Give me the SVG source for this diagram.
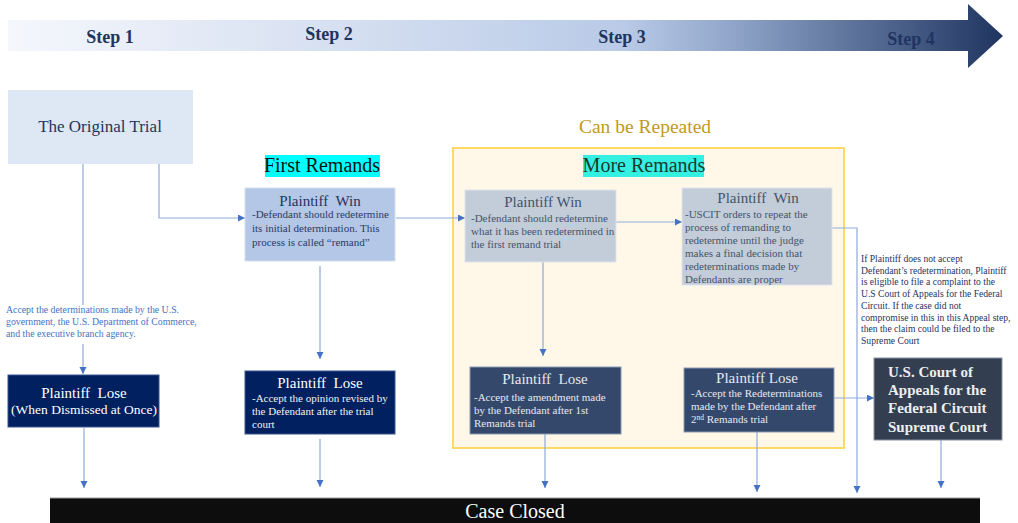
<svg xmlns="http://www.w3.org/2000/svg" width="1018" height="523" viewBox="0 0 1018 523" font-family="'Liberation Serif', 'Times New Roman', 'DejaVu Serif', serif">
<defs>
<linearGradient id="band" gradientUnits="userSpaceOnUse" x1="8" y1="0" x2="1003" y2="0">
<stop offset="0" stop-color="#f5f7fc"/>
<stop offset="0.3" stop-color="#d9e2f2"/>
<stop offset="0.62" stop-color="#b9cae7"/>
<stop offset="0.72" stop-color="#93a8cc"/>
<stop offset="1" stop-color="#1f3560"/>
</linearGradient>
<marker id="ah" markerUnits="userSpaceOnUse" markerWidth="8" markerHeight="8" refX="7" refY="3.5" orient="auto">
<path d="M0,0 L7,3.5 L0,7 z" fill="#4472c4"/>
</marker>
<style>
text{font-family:'Liberation Serif','Times New Roman','DejaVu Serif',serif}
.step{font-weight:bold;font-size:18px;fill:#1f3461;text-anchor:middle}
.conn{fill:none;stroke:#8eaadb;stroke-width:1.2}
.arr{marker-end:url(#ah)}
.title{font-size:15px;text-anchor:middle}
.body{font-size:11px}
.win1{fill:#b4c7e7;stroke:#d3def1;stroke-width:1}
.win2{fill:#c3ccd9;stroke:#dfe4ec;stroke-width:1}
.lose1{fill:#002060;stroke:#3a5590;stroke-width:1}
.lose2{fill:#34486c;stroke:#8a99b3;stroke-width:1}
.note{font-size:9.6px;fill:#1f3461}
</style>
</defs>

<g id="banner">
<path d="M8,20 L968,20 L968,4 L1003,36 L968,68 L968,51 L8,51 z" fill="url(#band)"/>
<text class="step" x="110" y="43">Step 1</text>
<text class="step" x="329" y="40">Step 2</text>
<text class="step" x="622" y="43">Step 3</text>
<text class="step" x="911" y="45">Step 4</text>
</g>

<g id="repeat-group">
<rect x="453" y="148" width="391" height="300" fill="#fff8e9" stroke="#ffd966" stroke-width="2"/>
<text x="645" y="133" font-size="19.5" fill="#c19a1e" text-anchor="middle">Can be Repeated</text>
<rect x="583" y="155" width="121" height="22" fill="#33f0e2"/>
<text x="644" y="172" font-size="20" fill="#1e3a2c" text-anchor="middle">More Remands</text>
</g>

<g id="connectors">
<path class="conn" d="M83,164 V305"/>
<path class="conn arr" d="M83,344 V374"/>
<path class="conn arr" d="M159,164 V218 H245"/>
<path class="conn arr" d="M84,428 V488"/>
<path class="conn arr" d="M320,266 V359"/>
<path class="conn arr" d="M320,439 V487"/>
<path class="conn arr" d="M396,218 H465"/>
<path class="conn arr" d="M543,262 V356"/>
<path class="conn arr" d="M545,434 V488"/>
<path class="conn arr" d="M616,222 H682"/>
<path class="conn arr" d="M832,228 H857 V493"/>
<path class="conn arr" d="M757,432 V492"/>
<path class="conn arr" d="M834,398 H874"/>
<path class="conn arr" d="M941,440 V488"/>
</g>

<g id="original-trial">
<rect x="8" y="90" width="185" height="74" fill="#dde8f4"/>
<text x="100" y="132" font-size="17" fill="#1f3461" text-anchor="middle">The Original Trial</text>
</g>

<g id="accept-note">
<text font-size="9.8" fill="#4472c4">
<tspan x="6" y="313">Accept the determinations made by the U.S.</tspan>
<tspan x="6" y="325">government, the U.S. Department of Commerce,</tspan>
<tspan x="6" y="337">and the executive branch agency.</tspan>
</text>
</g>

<g id="lose-dismissed">
<rect class="lose1" x="8" y="375" width="151" height="52"/>
<text class="title" x="84" y="398" fill="#ffffff">Plaintiff&#160; Lose</text>
<text x="84" y="414" font-size="13.5" fill="#ffffff" text-anchor="middle">(When Dismissed at Once)</text>
</g>

<g id="first-remands-label">
<rect x="265" y="155" width="115" height="22" fill="#00ffff"/>
<text x="322" y="172" font-size="20" fill="#111111" text-anchor="middle">First Remands</text>
</g>

<g id="win-first">
<rect class="win1" x="245" y="188" width="150" height="73"/>
<text class="title" x="320" y="206" fill="#1f3461">Plaintiff&#160; Win</text>
<text class="body" fill="#2a3a66">
<tspan x="252" y="218">-Defendant should redetermine</tspan>
<tspan x="252" y="232">its initial determination. This</tspan>
<tspan x="252" y="246">process is called “remand”</tspan>
</text>
</g>

<g id="lose-first">
<rect class="lose1" x="245" y="371" width="150" height="63"/>
<text class="title" x="320" y="388" fill="#ffffff">Plaintiff&#160; Lose</text>
<text class="body" fill="#f2f2f2">
<tspan x="252" y="402">-Accept the opinion revised by</tspan>
<tspan x="252" y="415">the Defendant after the trial</tspan>
<tspan x="252" y="428">court</tspan>
</text>
</g>

<g id="win-more-1">
<rect class="win2" x="465" y="190" width="151" height="72"/>
<text class="title" x="543" y="207" fill="#44546a">Plaintiff Win</text>
<text class="body" fill="#44546a">
<tspan x="471" y="222">-Defendant should redetermine</tspan>
<tspan x="471" y="235">what it has been redetermined in</tspan>
<tspan x="471" y="248">the first remand trial</tspan>
</text>
</g>

<g id="win-more-2">
<rect class="win2" x="682" y="188" width="150" height="97"/>
<text class="title" x="758" y="203" fill="#44546a">Plaintiff&#160; Win</text>
<text class="body" fill="#44546a">
<tspan x="685" y="218">-USCIT orders to repeat the</tspan>
<tspan x="685" y="231">process of remanding to</tspan>
<tspan x="685" y="244">redetermine until the judge</tspan>
<tspan x="685" y="257">makes a final decision that</tspan>
<tspan x="685" y="270">redeterminations made by</tspan>
<tspan x="685" y="283">Defendants are proper</tspan>
</text>
</g>

<g id="lose-more-1">
<rect class="lose2" x="470" y="367" width="151" height="67"/>
<text class="title" x="545" y="384" fill="#e6e9ef">Plaintiff&#160; Lose</text>
<text class="body" fill="#e6e9ef">
<tspan x="474" y="401">-Accept the amendment made</tspan>
<tspan x="474" y="414">by the Defendant after 1st</tspan>
<tspan x="474" y="427">Remands trial</tspan>
</text>
</g>

<g id="lose-more-2">
<rect class="lose2" x="684" y="368" width="150" height="64"/>
<text class="title" x="757" y="383" fill="#e6e9ef">Plaintiff Lose</text>
<text class="body" fill="#e6e9ef">
<tspan x="691" y="397">-Accept the Redeterminations</tspan>
<tspan x="691" y="410">made by the Defendant after</tspan>
<tspan x="691" y="423">2<tspan font-size="7.5" dy="-3.5">nd</tspan><tspan dy="3.5"> Remands trial</tspan></tspan>
</text>
</g>

<g id="appeal-note">
<text class="note">
<tspan x="861" y="262">If Plaintiff does not accept</tspan>
<tspan x="861" y="273.7">Defendant’s redetermination, Plaintiff</tspan>
<tspan x="861" y="285.4">is eligible to file a complaint to the</tspan>
<tspan x="861" y="297.1">U.S Court of Appeals for the Federal</tspan>
<tspan x="861" y="308.8">Circuit. If the case did not</tspan>
<tspan x="861" y="320.5">compromise in this in this Appeal step,</tspan>
<tspan x="861" y="332.2">then the claim could be filed to the</tspan>
<tspan x="861" y="343.9">Supreme Court</tspan>
</text>
</g>

<g id="court">
<rect x="874" y="358" width="128" height="82" fill="#333f50" stroke="#8a94a3" stroke-width="1"/>
<text font-size="15" font-weight="bold" fill="#eeeeee">
<tspan x="888" y="377">U.S. Court of</tspan>
<tspan x="888" y="395">Appeals for the</tspan>
<tspan x="888" y="413">Federal Circuit</tspan>
<tspan x="888" y="432">Supreme Court</tspan>
</text>
</g>

<g id="case-closed">
<rect x="50" y="498" width="930" height="30" fill="#0d0d0d"/>
<line x1="50" y1="498" x2="980" y2="498" stroke="#9a9a9a" stroke-width="1"/>
<text x="515" y="518" font-size="20" fill="#ffffff" text-anchor="middle">Case Closed</text>
</g>
</svg>
